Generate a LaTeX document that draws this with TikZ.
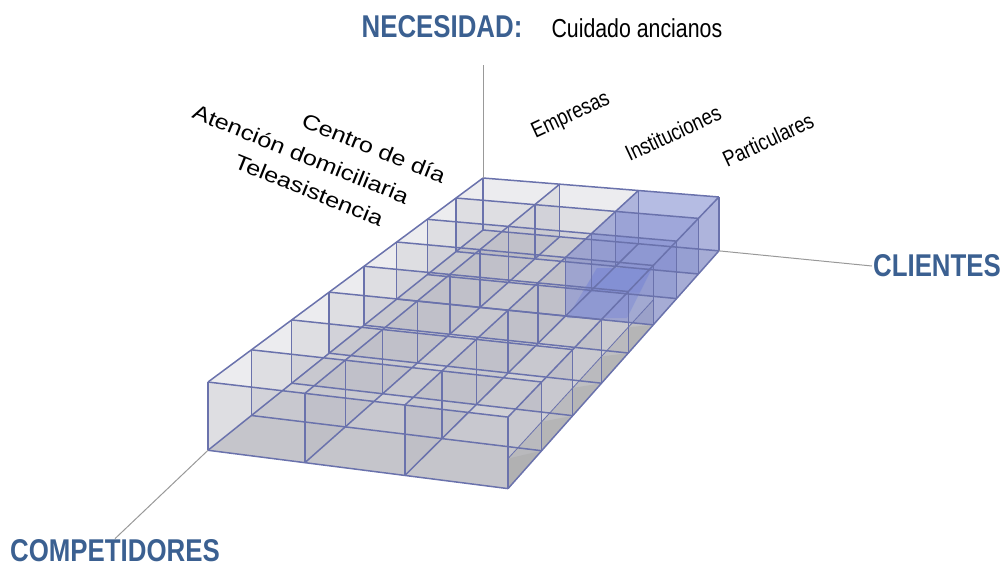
\documentclass[tikz,border=0pt]{standalone}
\usepackage{fontspec}
\setmainfont{Liberation Sans}
\newfontfamily\narrowsans[FakeStretch=0.82]{Liberation Sans}
\newfontfamily\widesans[FakeStretch=1.2]{Liberation Sans}
\definecolor{titleblue}{RGB}{59,96,145}
\definecolor{edgeblue}{RGB}{106,114,172}
\definecolor{boxblue}{RGB}{120,134,214}
\definecolor{wallgray}{RGB}{170,170,182}
\definecolor{floorgray}{RGB}{196,196,202}

\begin{document}
\begin{tikzpicture}[x=1pt, y=-1pt,
  declare function={
    persp(\x,\y)=1-0.035*\x/3-0.238*\y/8;
    projx(\x,\y)=(483+210.8*\x/3-324.5*\y/8)/persp(\x,\y);
    projy(\x,\y,\z)=(178+12.1*\x/3+113.1*\y/8+52*(1-\z))/persp(\x,\y);
  },
  axis title/.style={font=\narrowsans\bfseries\fontsize{31.5}{36}\selectfont, text=titleblue, inner sep=1pt},
  need text/.style={font=\narrowsans\fontsize{26}{30}\selectfont, anchor=west},
  client/.style={font=\narrowsans\fontsize{22.5}{27}\selectfont, rotate=25, inner sep=0pt},
  service/.style={font=\widesans\fontsize{21}{25}\selectfont, rotate=-22, inner sep=0pt},
  axis line/.style={draw=gray!80, line width=1pt},
  gridline/.style={draw=edgeblue, line width=1.5pt, line join=round},
  wall/.style={fill=wallgray, fill opacity=0.22},
  floor/.style={fill=floorgray, fill opacity=0.6},
  side shade/.style={fill=gray!70, fill opacity=0.4},
  bluecell/.style={fill=boxblue, fill opacity=0.27}]
\useasboundingbox (0,0) rectangle (1006,568);

% grid points, t = top, m = half way, b = bottom
\foreach \i in {0,...,3}
  \foreach \j in {0,...,8} {
    \coordinate (t\i-\j) at ({projx(\i,\j)},{projy(\i,\j,1)});
    \coordinate (m\i-\j) at ({projx(\i,\j)},{projy(\i,\j,0.42)});
    \coordinate (b\i-\j) at ({projx(\i,\j)},{projy(\i,\j,0)});
  }

% floor and walls
\fill[floor] (b0-0) -- (b3-0) -- (b3-8) -- (b0-8) -- cycle;
\fill[floor] (b0-7) -- (b3-7) -- (b3-8) -- (b0-8) -- cycle;
\foreach \i in {0,...,3}
  \fill[wall] (b\i-0) -- (b\i-8) -- (t\i-8) -- (t\i-0) -- cycle;
\foreach \j in {0,...,8}
  \fill[wall] (b0-\j) -- (b3-\j) -- (t3-\j) -- (t0-\j) -- cycle;

% right side, lower part darker
\fill[side shade] (b3-3) -- (b3-8) -- (m3-8) -- (m3-3) -- cycle;
\foreach \j [evaluate=\j as \k using int(\j+1)] in {3,...,7}
  \fill[side shade] (m3-\k) -- (b3-\k) -- (b3-\j) -- cycle;

% highlighted block
\fill[bluecell] (t2-0) -- (t3-0) -- (t3-3) -- (t2-3) -- cycle;
\fill[bluecell] (b2-0) -- (b3-0) -- (b3-3) -- (b2-3) -- cycle;
\foreach \i in {2,3}
  \fill[bluecell] (b\i-0) -- (b\i-3) -- (t\i-3) -- (t\i-0) -- cycle;
\foreach \j in {0,...,3}
  \fill[bluecell] (b2-\j) -- (b3-\j) -- (t3-\j) -- (t2-\j) -- cycle;
\fill[boxblue, fill opacity=0.45] (597,268) -- (652,268) -- (627,318) -- (567,318) -- cycle;
\fill[boxblue, fill opacity=0.25] (597,268) -- (652,268) -- (640,292) -- (583,292) -- cycle;

% edges
\foreach \i in {0,...,3} {
  \draw[gridline] (t\i-0) -- (t\i-8);
  \draw[gridline] (b\i-0) -- (b\i-8);
}
\foreach \j in {0,...,8} {
  \draw[gridline] (t0-\j) -- (t3-\j);
  \draw[gridline] (b0-\j) -- (b3-\j);
}
\foreach \i in {0,...,3}
  \foreach \j in {0,...,8}
    \draw[gridline] (b\i-\j) -- (t\i-\j);
\draw[gridline, line width=0.8pt] (m3-3) -- (m3-8);

% labels
\node[axis title] (need) at (442,27) {NECESIDAD:};
\node[need text] (elder) at (548,28) {Cuidado ancianos};
\node[axis title] (cli) at (937,266) {CLIENTES};
\node[axis title] (comp) at (115,551) {COMPETIDORES};

\node[client] (emp) at (571,116) {Empresas};
\node[client] (inst) at (673,133) {Instituciones};
\node[client] (part) at (768,140) {Particulares};

\node[service] (cdd) at (374,148) {Centro de día};
\node[service] (ad) at (301,154) {Atención domiciliaria};
\node[service] (tele) at (309,190) {Teleasistencia};

% axes
\coordinate (need top) at (483,65);
\draw[axis line] (t0-0) -- (need top);
\draw[axis line] (b3-0) -- (cli.west);
\draw[axis line] (b0-8) -- (comp.north);
\end{tikzpicture}
\end{document}
